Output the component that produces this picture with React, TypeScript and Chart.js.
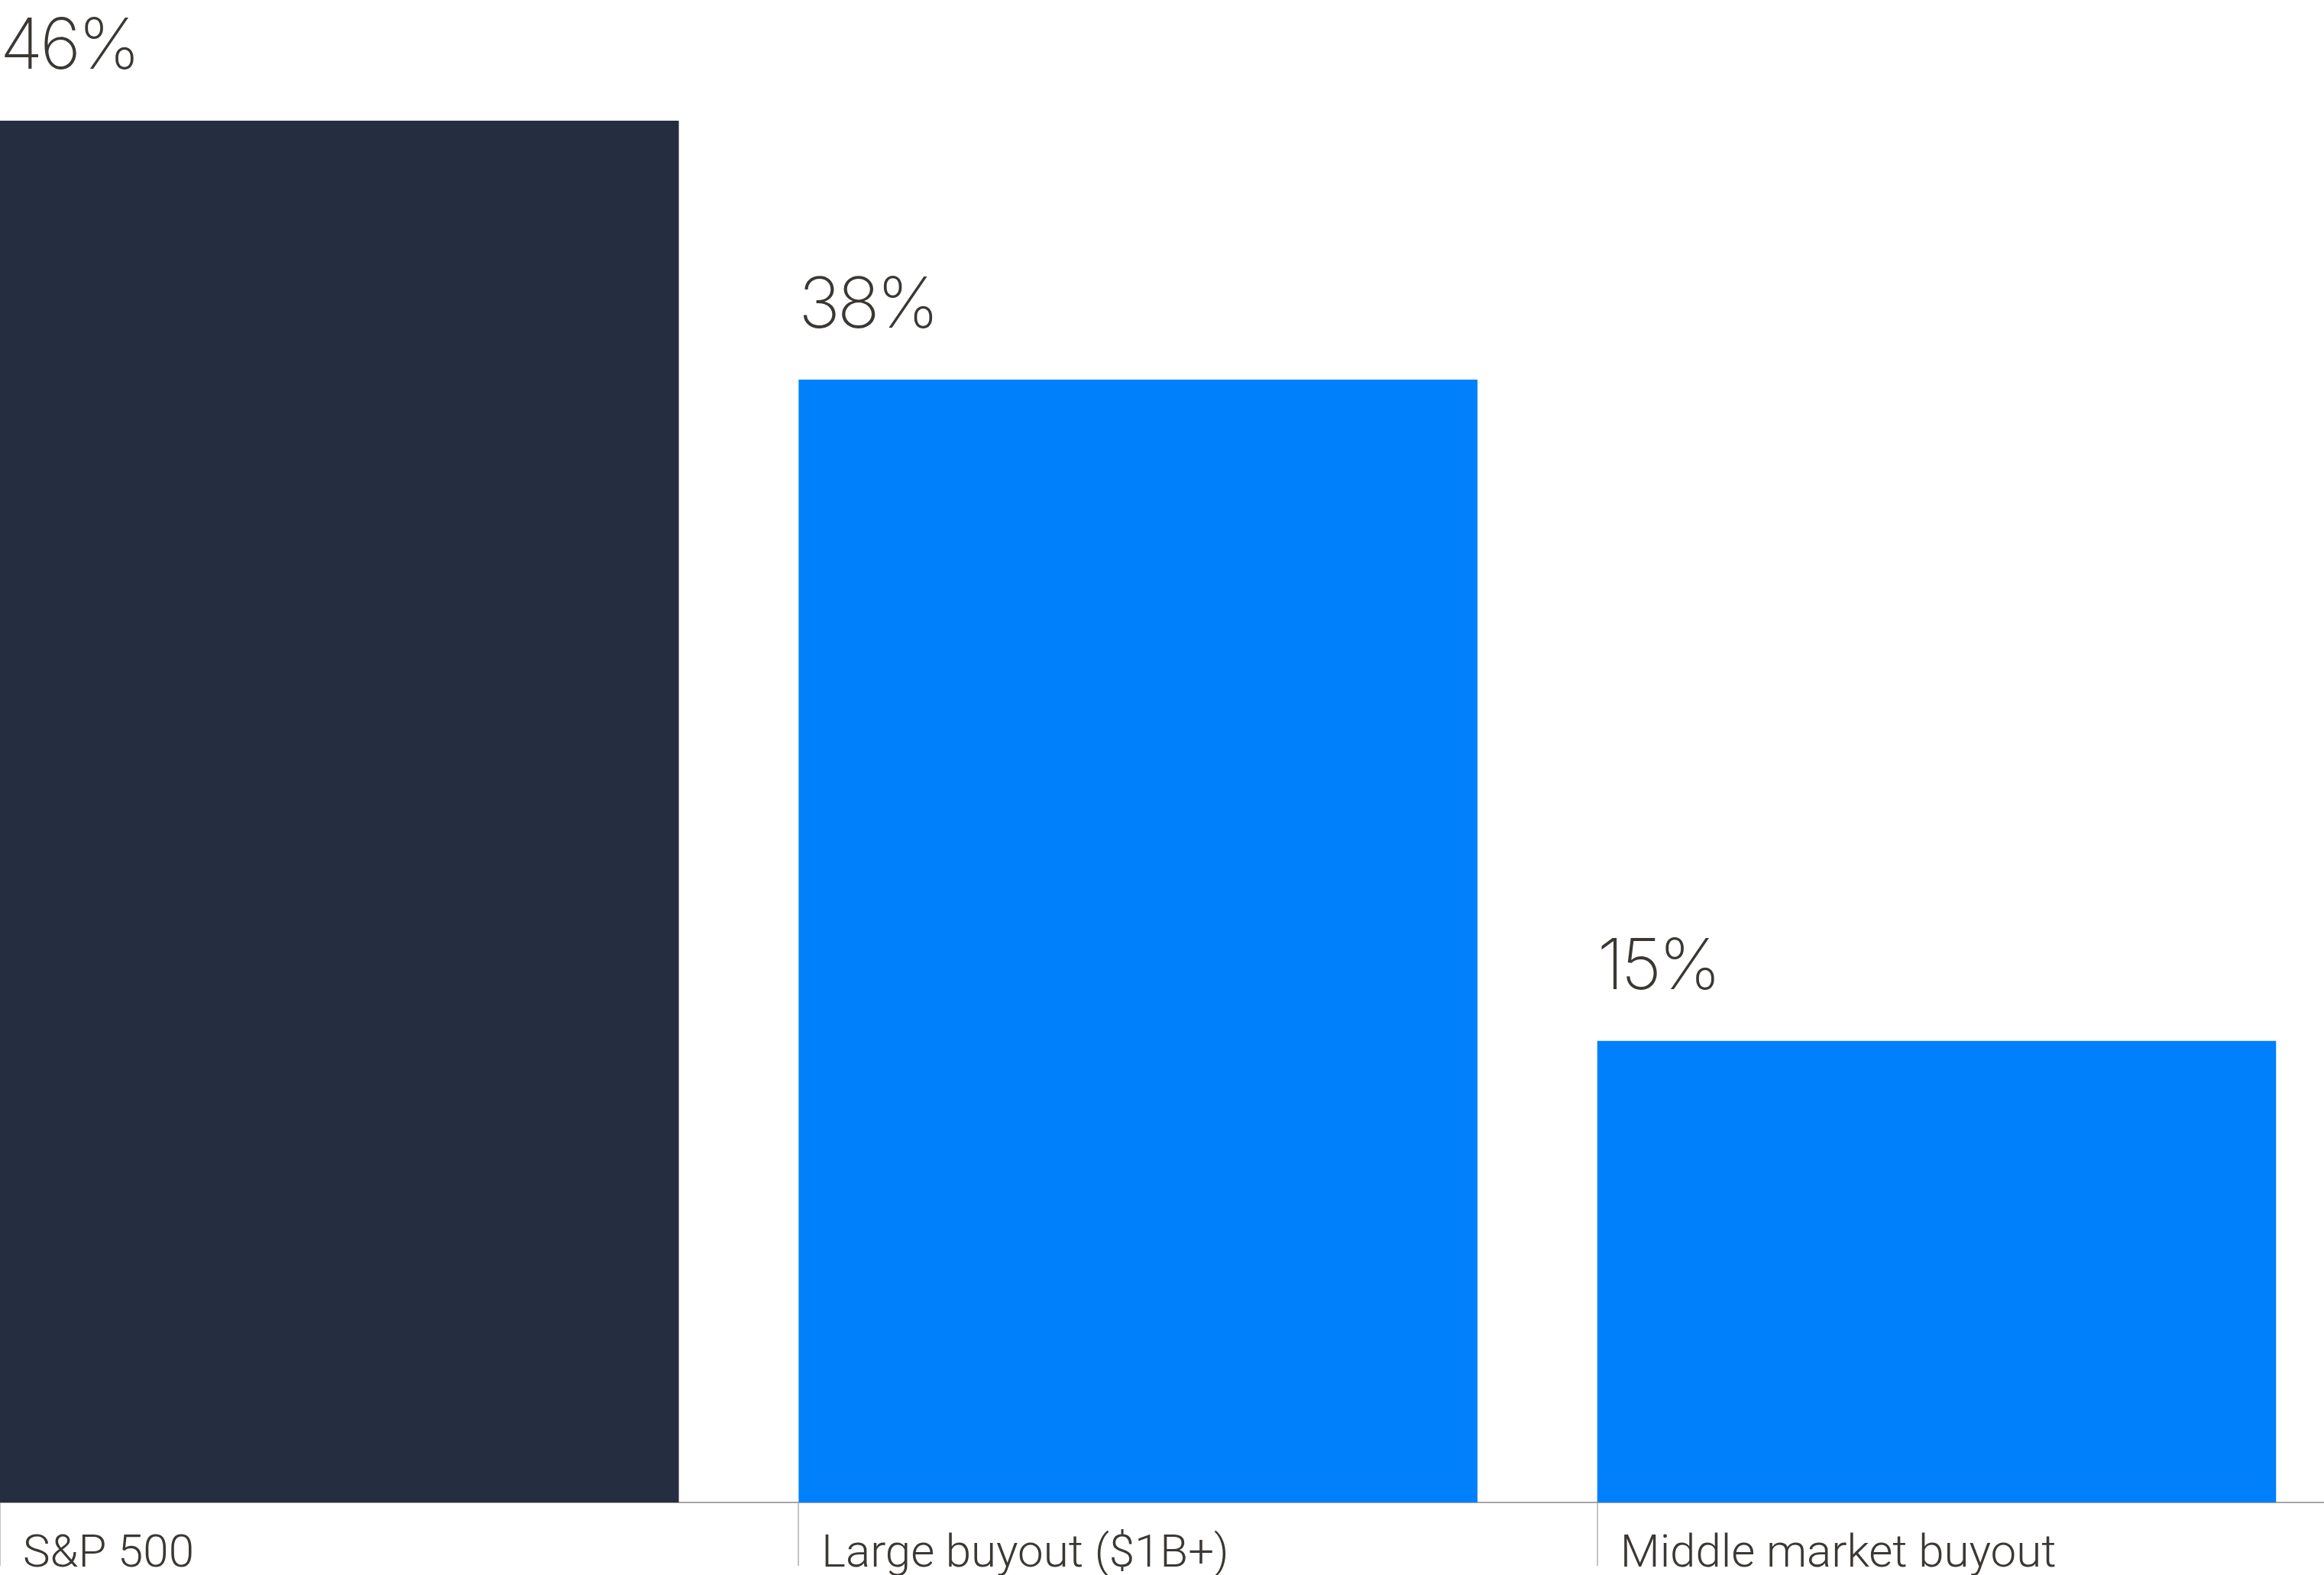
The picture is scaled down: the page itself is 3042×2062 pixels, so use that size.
import React, { useEffect, useRef } from "react";
import { Chart, registerables } from "chart.js";

Chart.register(...registerables);

// ---- data ----
const CATEGORIES = ["S&P 500", "Large buyout ($1B+)", "Middle market buyout"];
const VALUES = [46.4, 37.7, 15.5];
const VALUE_LABELS = ["46%", "38%", "15%"];
const BAR_COLORS = ["#252d40", "#0080fa", "#0080fa"];

// ---- scale settings ----
const BAR_PCT = 0.85;
const X_MAX = 2.91;
const Y_MAX = 50.45;

const TEXT_COLOR = "#3b3834";

const valueLabelPlugin = {
  id: "valueLabels",
  afterDatasetsDraw(chart: any) {
    const { ctx } = chart;
    const meta = chart.getDatasetMeta(0);
    ctx.save();
    ctx.font = "200 92px Inter";
    (ctx as any).letterSpacing = "-4px";
    ctx.fillStyle = TEXT_COLOR;
    ctx.textAlign = "left";
    ctx.textBaseline = "alphabetic";
    meta.data.forEach((bar: any, i: number) => {
      const { x, y, width } = bar.getProps(["x", "y", "width"], true);
      ctx.fillText(VALUE_LABELS[i], x - width / 2, y - 68);
    });
    ctx.restore();
  },
};

export default function App() {
  const ref = useRef<HTMLCanvasElement | null>(null);

  useEffect(() => {
    if (!ref.current) return;
    const chart = new Chart(ref.current, {
      type: "bar",
      data: {
        datasets: [
          {
            data: VALUES.map((v, i) => ({ x: i + BAR_PCT / 2, y: v })),
            backgroundColor: BAR_COLORS,
            borderWidth: 0,
            barPercentage: BAR_PCT,
            categoryPercentage: 1,
          },
        ],
      },
      options: {
        animation: false,
        responsive: false,
        layout: { padding: 0 },
        plugins: {
          legend: { display: false },
          tooltip: { enabled: false },
        },
        scales: {
          x: {
            type: "linear",
            min: 0,
            max: X_MAX,
            offset: false,
            afterBuildTicks: (scale: any) => {
              scale.ticks = CATEGORIES.map((_, i) => ({ value: i }));
            },
            afterFit: (scale: any) => {
              scale.height = 95;
            },
            ticks: {
              callback: (v: any) => CATEGORIES[v as number] ?? "",
              align: "start",
              labelOffset: 30,
              padding: -50,
              autoSkip: false,
              maxRotation: 0,
              minRotation: 0,
              color: TEXT_COLOR,
              font: { family: "Roboto", size: 60, weight: "300" },
            },
            grid: {
              offset: false,
              drawOnChartArea: false,
              drawTicks: true,
              tickLength: 83,
              color: "#c4c4c4",
              lineWidth: 2,
            },
            border: { display: true, color: "#a5a5a5", width: 2 },
          },
          y: {
            display: false,
            min: 0,
            max: Y_MAX,
          },
        },
      },
      plugins: [valueLabelPlugin],
    } as any);
    return () => chart.destroy();
  }, []);

  return (
    <div style={{ position: "absolute", left: 0, top: 0, width: 3042, height: 2062, background: "#fff" }}>
      <canvas ref={ref} width={3042} height={2062} style={{ display: "block" }} />
    </div>
  );
}
